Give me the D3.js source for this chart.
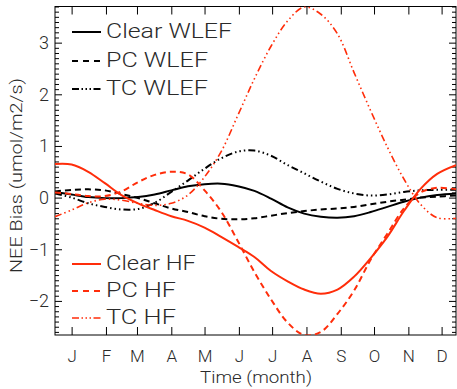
<!DOCTYPE html>
<html>
<head>
<meta charset="utf-8">
<script src="https://cdn.jsdelivr.net/npm/d3@7"></script>
<style>
  body { margin: 0; background: #fff; }
  svg { display: block; }
  text { font-family: Roboto, "Open Sans", "DejaVu Sans", sans-serif; font-weight: 300; fill: #2a2a2a; }
</style>
</head>
<body>
<svg id="chart" width="457" height="389"></svg>
<script>
// Day of year for each sample of the seasonal bias curves
const days = [0, 15, 30, 45, 60, 75, 90, 105, 120, 135, 150, 165, 180, 195, 210, 225, 240, 255, 270, 285, 300, 315, 330, 345, 362];

// NEE bias (umol/m2/s) — WLEF tower
const clearWLEF = [0.11, 0.06, 0.01, -0.01, -0.01, 0.01, 0.06, 0.14, 0.22, 0.26, 0.27, 0.22, 0.13, -0.02, -0.19, -0.31, -0.37, -0.39, -0.36, -0.28, -0.18, -0.08, 0.0, 0.05, 0.08];
const pcWLEF    = [0.12, 0.15, 0.16, 0.14, 0.07, -0.01, -0.11, -0.21, -0.28, -0.36, -0.41, -0.42, -0.40, -0.35, -0.30, -0.26, -0.23, -0.21, -0.18, -0.13, -0.08, -0.04, 0.0, 0.02, 0.04];
const tcWLEF    = [0.08, 0.0, -0.11, -0.18, -0.23, -0.22, -0.10, 0.11, 0.33, 0.56, 0.76, 0.89, 0.91, 0.81, 0.63, 0.47, 0.31, 0.17, 0.08, 0.04, 0.06, 0.11, 0.14, 0.15, 0.15];

// NEE bias (umol/m2/s) — Harvard Forest
const clearHF = [0.65, 0.64, 0.50, 0.28, 0.05, -0.11, -0.24, -0.36, -0.45, -0.58, -0.76, -0.95, -1.15, -1.42, -1.62, -1.78, -1.86, -1.78, -1.53, -1.17, -0.76, -0.26, 0.17, 0.46, 0.63];
const pcHF    = [0.10, 0.07, 0.03, 0.03, 0.12, 0.30, 0.44, 0.50, 0.45, 0.14, -0.27, -0.84, -1.44, -1.97, -2.42, -2.66, -2.60, -2.25, -1.80, -1.20, -0.70, -0.21, 0.10, 0.19, 0.16];
const tcHF    = [-0.37, -0.24, -0.10, -0.03, -0.05, -0.11, -0.15, -0.11, 0.05, 0.40, 0.89, 1.59, 2.30, 2.93, 3.42, 3.69, 3.55, 3.17, 2.42, 1.68, 0.98, 0.36, -0.13, -0.39, -0.40];

// Axis ticks
const monthDays   = [15, 46, 74, 105, 135, 166, 196, 227, 258, 288, 319, 349];
const monthLabels = ["J", "F", "M", "A", "M", "J", "J", "A", "S", "O", "N", "D"];
const yMajor = [-2, -1, 0, 1, 2, 3];

const seriesNames = ["Clear WLEF", "PC WLEF", "TC WLEF", "Clear HF", "PC HF", "TC HF"];
const seriesValues = [clearWLEF, pcWLEF, tcWLEF, clearHF, pcHF, tcHF];

const BLACK = "#000000", RED = "#ff2d0a";
const DASH = "6,4", DASH3DOT = "7,3,1.5,3,1.5,3,1.5,3";
const styles = [
  { color: BLACK, dash: null, w: 2 },
  { color: BLACK, dash: DASH, w: 2 },
  { color: BLACK, dash: DASH3DOT, w: 2 },
  { color: RED, dash: null, w: 2 },
  { color: RED, dash: DASH, w: 2 },
  { color: RED, dash: DASH3DOT, w: 1.6 }
];

const svg = d3.select("#chart");
const plot = { left: 55, right: 456, top: 6.5, bottom: 335 };

const x = d3.scaleLinear().domain([0, 362]).range([plot.left, plot.right]);
const y = d3.scaleLinear().domain([-2.66, 3.70]).range([plot.bottom, plot.top]);

svg.append("clipPath").attr("id", "clip")
  .append("rect").attr("x", plot.left).attr("y", plot.top)
  .attr("width", plot.right - plot.left).attr("height", plot.bottom - plot.top);

// Minor y ticks every 0.1
const yMinor = d3.range(-26, 38).map(v => v / 10).filter(v => Math.abs(v - Math.round(v)) > 1e-6);

function styleAxis(g) {
  g.select(".domain").remove();
  g.selectAll("line").attr("stroke", "#000").attr("stroke-width", 1);
}

// Left axis with labels
svg.append("g").attr("transform", `translate(${plot.left},0)`)
  .call(d3.axisLeft(y).tickValues(yMajor).tickSizeInner(-7).tickSizeOuter(0).tickPadding(6)
        .tickFormat(d => d < 0 ? "\u2212" + Math.abs(d) : d))
  .call(styleAxis)
  .call(g => g.selectAll("text").attr("font-size", 18).attr("fill", "#2a2a2a"));
svg.append("g").attr("transform", `translate(${plot.left},0)`)
  .call(d3.axisLeft(y).tickValues(yMinor).tickSizeInner(-4).tickSizeOuter(0).tickFormat(""))
  .call(styleAxis);

// Right axis (ticks only)
svg.append("g").attr("transform", `translate(${plot.right},0)`)
  .call(d3.axisRight(y).tickValues(yMajor).tickSizeInner(-7).tickSizeOuter(0).tickFormat(""))
  .call(styleAxis);
svg.append("g").attr("transform", `translate(${plot.right},0)`)
  .call(d3.axisRight(y).tickValues(yMinor).tickSizeInner(-4).tickSizeOuter(0).tickFormat(""))
  .call(styleAxis);

// Bottom axis with month initials
svg.append("g").attr("transform", `translate(0,${plot.bottom})`)
  .call(d3.axisBottom(x).tickValues(monthDays).tickSizeInner(-8).tickSizeOuter(0).tickPadding(15)
        .tickFormat((d, i) => monthLabels[i]))
  .call(styleAxis)
  .call(g => g.selectAll("text").attr("font-size", 17).attr("fill", "#2a2a2a"));

// Top axis (ticks only)
svg.append("g").attr("transform", `translate(0,${plot.top})`)
  .call(d3.axisTop(x).tickValues(monthDays).tickSizeInner(-8).tickSizeOuter(0).tickFormat(""))
  .call(styleAxis);

// Frame
svg.append("rect")
  .attr("x", plot.left).attr("y", plot.top)
  .attr("width", plot.right - plot.left).attr("height", plot.bottom - plot.top)
  .attr("fill", "none").attr("stroke", "#000").attr("stroke-width", 1);

// Curves
const line = d3.line().x((d, i) => x(days[i])).y(d => y(d)).curve(d3.curveCatmullRom.alpha(0.5));
const curves = svg.append("g").attr("clip-path", "url(#clip)");
seriesValues.forEach((vals, k) => {
  const s = styles[k];
  curves.append("path").datum(vals)
    .attr("d", line)
    .attr("fill", "none")
    .attr("stroke", s.color)
    .attr("stroke-width", s.w)
    .attr("stroke-dasharray", s.dash);
});

// Legends (two groups: WLEF at top, HF at bottom)
const legendRows = [
  { k: 0, y: 32, len: 126 }, { k: 1, y: 61, len: 102 }, { k: 2, y: 89, len: 102 },
  { k: 3, y: 264, len: 90 }, { k: 4, y: 291, len: 70 }, { k: 5, y: 318, len: 70 }
];
legendRows.forEach(r => {
  const s = styles[r.k];
  svg.append("line")
    .attr("x1", 72).attr("x2", 101).attr("y1", r.y).attr("y2", r.y)
    .attr("stroke", s.color).attr("stroke-width", s.w)
    .attr("stroke-dasharray", s.dash === DASH ? "6,5" : (s.dash ? "7,2.5,1.5,2.5,1.5,2.5,1.5,2.5" : null));
  svg.append("text")
    .attr("x", 106).attr("y", r.y + 6)
    .attr("font-size", 21)
    .attr("textLength", r.len).attr("lengthAdjust", "spacingAndGlyphs")
    .text(seriesNames[r.k]);
});

// Axis titles
svg.append("text")
  .attr("x", 256).attr("y", 383)
  .attr("text-anchor", "middle").attr("font-size", 17)
  .attr("textLength", 112).attr("lengthAdjust", "spacingAndGlyphs")
  .text("Time (month)");
svg.append("text")
  .attr("transform", "translate(22,175.5) rotate(-90)")
  .attr("text-anchor", "middle").attr("font-size", 17)
  .attr("textLength", 195).attr("lengthAdjust", "spacingAndGlyphs")
  .text("NEE Bias (umol/m2/s)");
</script>
</body>
</html>
